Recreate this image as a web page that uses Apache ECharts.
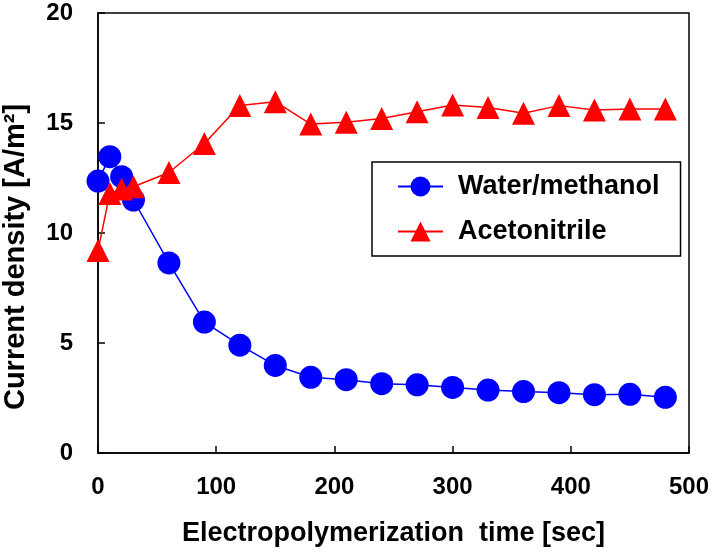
<!DOCTYPE html>
<html>
<head>
<meta charset="utf-8">
<script src="https://cdn.jsdelivr.net/npm/echarts@6/dist/echarts.min.js"></script>
<style>html,body{margin:0;padding:0;background:#fff}#c{width:713px;height:552px}</style>
</head>
<body>
<div id="c"></div>
<script>
var times = [0, 10, 20, 30, 60, 90, 120, 150, 180, 210, 240, 270, 300, 330, 360, 390, 420, 450, 480];
var waterMethanol = [12.36, 13.47, 12.56, 11.5, 8.64, 5.95, 4.9, 3.98, 3.44, 3.33, 3.15, 3.1, 2.98, 2.86, 2.79, 2.74, 2.65, 2.67, 2.53];
var acetonitrile = [9.2, 11.8, 12.0, 12.1, 12.75, 14.07, 15.8, 15.97, 14.95, 15.03, 15.2, 15.51, 15.82, 15.7, 15.44, 15.79, 15.59, 15.64, 15.64];
var seriesNames = ['Water/methanol', 'Acetonitrile'];
var xTitle = 'Electropolymerization  time [sec]';
var yTitle = 'Current density [A/m²]';

function pairs(xs, ys) { return xs.map(function (x, i) { return [x, ys[i]]; }); }

var font = '"Liberation Sans", Arial, sans-serif';
var chart = echarts.init(document.getElementById('c'), null, {renderer: 'canvas'});
chart.setOption({
  animation: false,
  backgroundColor: '#fff',
  grid: {left: 98, right: 24, top: 13, bottom: 99, show: true, borderColor: '#000', borderWidth: 1.5,
         backgroundColor: 'transparent', containLabel: false, outerBoundsMode: 'none'},
  legend: {
    orient: 'vertical',
    left: 372, top: 162,
    padding: [11, 21, 11, 25],
    itemWidth: 45, itemHeight: 25, itemGap: 18,
    borderColor: '#000', borderWidth: 1.5, backgroundColor: '#fff',
    textStyle: {fontFamily: font, fontWeight: 'bold', fontSize: 27, color: '#000', padding: [0, 0, 0, 10]},
    data: seriesNames
  },
  xAxis: {
    type: 'value', min: 0, max: 500, interval: 100,
    name: xTitle, nameLocation: 'middle', nameGap: 67,
    nameTextStyle: {fontFamily: font, fontWeight: 'bold', fontSize: 27, color: '#000'},
    axisLine: {show: true, lineStyle: {color: '#000', width: 1.5}},
    axisTick: {show: true, inside: true, length: 7, lineStyle: {color: '#000', width: 1.5}},
    axisLabel: {fontFamily: font, fontWeight: 'bold', fontSize: 24, color: '#000', margin: 22},
    splitLine: {show: false}
  },
  yAxis: {
    type: 'value', min: 0, max: 20, interval: 5,
    name: yTitle, nameLocation: 'middle', nameGap: 68, nameRotate: 90,
    nameTextStyle: {fontFamily: font, fontWeight: 'bold', fontSize: 29, color: '#000', padding: [0, 48, 0, 0]},
    axisLine: {show: true, lineStyle: {color: '#000', width: 1.5}},
    axisTick: {show: true, inside: true, length: 7, lineStyle: {color: '#000', width: 1.5}},
    axisLabel: {fontFamily: font, fontWeight: 'bold', fontSize: 24, color: '#000', margin: 25},
    splitLine: {show: false}
  },
  series: [
    {
      name: seriesNames[0], type: 'line', data: pairs(times, waterMethanol),
      symbol: 'circle', symbolSize: 23,
      itemStyle: {color: '#0000FF'}, lineStyle: {color: '#0000FF', width: 1.5}
    },
    {
      name: seriesNames[1], type: 'line', data: pairs(times, acetonitrile),
      symbol: 'triangle', symbolSize: 23,
      itemStyle: {color: '#FF0000'}, lineStyle: {color: '#FF0000', width: 1.5}
    }
  ]
});
</script>
</body>
</html>
